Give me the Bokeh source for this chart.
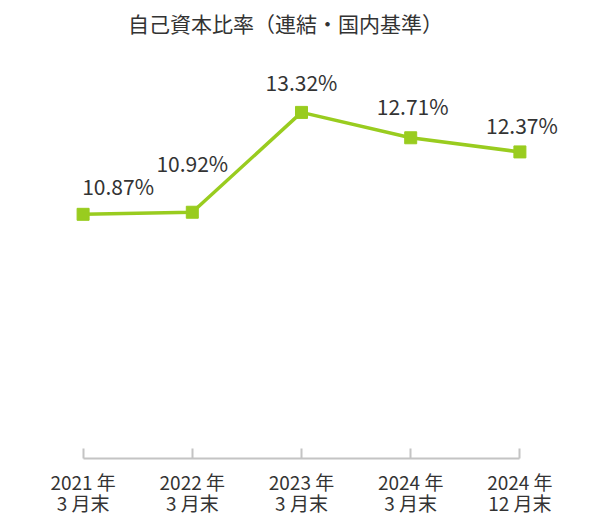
from bokeh.plotting import figure
from bokeh.models import ColumnDataSource, FixedTicker, Range1d, Label
from bokeh.core.properties import value
from bokeh.embed import file_html
from bokeh.resources import INLINE

title = "自己資本比率（連結・国内基準）"
categories = ["2021 年\n3 月末", "2022 年\n3 月末", "2023 年\n3 月末", "2024 年\n3 月末", "2024 年\n12 月末"]
ratios = [10.87, 10.92, 13.32, 12.71, 12.37]
labels = ["10.87%", "10.92%", "13.32%", "12.71%", "12.37%"]

# label placement (style)
label_dx = [35, 0, 0, 2, 2]
label_dy = [-28, -49, -30, -32, -27]

FONT = "Noto Sans CJK JP"
GREEN = "#99cc1f"
TEXT = "#333333"
AXIS = "#c4c4c4"

xs = list(range(len(categories)))
src = ColumnDataSource(dict(x=xs, y=ratios, lab=labels, dx=label_dx, dy=label_dy))

p = figure(width=600, height=520, output_backend="svg", toolbar_location=None,
           x_range=Range1d(-0.5, 4.5), y_range=Range1d(5, 16.01),
           y_axis_location=None, min_border_left=28, min_border_right=26,
           min_border_top=0, min_border_bottom=62)
p.outline_line_color = None
p.grid.visible = False
p.background_fill_color = "white"
p.border_fill_color = "white"

p.add_layout(Label(x=285, y=22, x_units="canvas", y_units="canvas", text=title,
                   text_font=FONT, text_font_size="21px", text_color=TEXT,
                   text_align="center", text_baseline="middle"))

p.line("x", "y", source=src, line_color=GREEN, line_width=3.5)
p.scatter("x", "y", source=src, marker="square", size=12, fill_color=GREEN, line_color=GREEN)
p.text("x", "y", text="lab", source=src, x_offset="dx", y_offset="dy",
       text_font=value(FONT), text_font_size="21px", text_color=TEXT,
       text_align="center", text_baseline="middle")

ax = p.xaxis[0]
ax.ticker = FixedTicker(ticks=xs)
ax.major_label_overrides = {i: c for i, c in zip(xs, categories)}
ax.bounds = (0, 4)
ax.axis_line_color = AXIS
ax.axis_line_width = 2
ax.major_tick_line_color = AXIS
ax.major_tick_line_width = 2
ax.major_tick_in = 10
ax.major_tick_out = 0
ax.minor_tick_line_color = None
ax.major_label_standoff = 9
ax.major_label_text_font = FONT
ax.major_label_text_font_size = "19px"
ax.major_label_text_line_height = 0.8
ax.major_label_text_color = TEXT

open("out.html", "w").write(file_html(p, INLINE))
